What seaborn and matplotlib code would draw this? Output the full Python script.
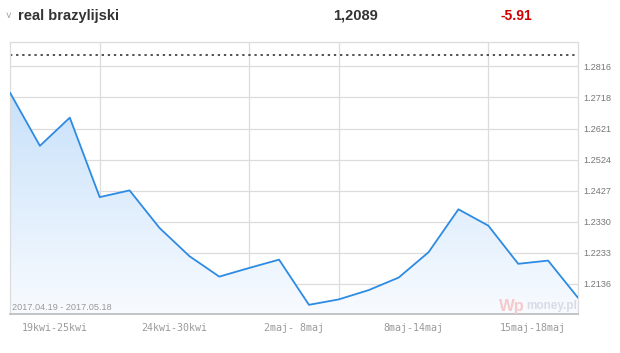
import numpy as np
import pandas as pd
import seaborn as sns
import matplotlib.pyplot as plt
from matplotlib.colors import LinearSegmentedColormap

# kurs reala brazylijskiego, 2017.04.19 - 2017.05.18
values = [1.2733, 1.2567, 1.2655, 1.2407, 1.2428, 1.2311, 1.2223, 1.2159,
          1.2186, 1.2212, 1.2071, 1.2088, 1.2117, 1.2156, 1.2235, 1.2369,
          1.2318, 1.2199, 1.2209, 1.2093]
y_ticks = [1.2136, 1.2233, 1.2330, 1.2427, 1.2524, 1.2621, 1.2718, 1.2816]
week_labels = ["19kwi-25kwi", "24kwi-30kwi", "2maj- 8maj", "8maj-14maj", "15maj-18maj"]
week_edges = [0, 3, 8, 11, 16, 19]
dotted_level = 1.2850

df = pd.DataFrame({"idx": np.arange(len(values)), "kurs": values})

sns.set_theme(style="white")
plt.rcParams["font.family"] = ["Liberation Sans", "DejaVu Sans"]

fig = plt.figure(figsize=(6.2, 3.53), dpi=100)
ax = fig.add_axes([10 / 620, 1 - 314 / 353, 568 / 620, 272 / 353])

ymin, ymax = 1.20424, 1.28909
xmin, xmax = week_edges[0], week_edges[-1]

# gradient fill under line
poly = ax.fill_between(df.idx, df.kurs, ymin, color="none", lw=0)
grad = np.linspace(1, 0, 256).reshape(-1, 1)
cmap = LinearSegmentedColormap.from_list("g", ["#f8fbff", "#c6e0fa"])
img = ax.imshow(grad, cmap=cmap, aspect="auto", extent=[xmin, xmax, ymin, 1.2760],
                origin="upper", zorder=1)
img.set_clip_path(poly.get_paths()[0], transform=ax.transData)

sns.lineplot(data=df, x="idx", y="kurs", ax=ax, color="#2e8be3", lw=1.3, zorder=3)

ax.set_xlim(xmin, xmax)
ax.set_ylim(ymin, ymax)

for yt in y_ticks:
    ax.axhline(yt, color="#dcdcdc", lw=0.9, zorder=0)
for xe in week_edges[1:-1]:
    ax.axvline(xe, color="#dcdcdc", lw=0.9, zorder=0)
ax.axhline(dotted_level, color="#222222", lw=1.1, ls=(0, (1.5, 2.5)), zorder=2)

ax.set_xticks([])
ax.set_yticks([])
ax.set_xlabel("")
ax.set_ylabel("")
for side in ["left", "top", "right"]:
    ax.spines[side].set_color("#dcdcdc")
    ax.spines[side].set_linewidth(0.9)
ax.spines["bottom"].set_color("#b4b4b4")
ax.spines["bottom"].set_linewidth(1.1)

for yt in y_ticks:
    ax.annotate(f"{yt:.4f}", xy=(1, yt), xycoords=("axes fraction", "data"),
                xytext=(5, -1), textcoords="offset pixels", fontsize=6.6,
                color="#777777", va="center", ha="left", annotation_clip=False)

for i, lab in enumerate(week_labels):
    xc = (week_edges[i] + week_edges[i + 1]) / 2
    ax.annotate(lab, xy=(xc, 0), xycoords=("data", "axes fraction"),
                xytext=(0, -14), textcoords="offset pixels", fontsize=7.2,
                color="#9a9a9a", ha="center", va="center",
                family="DejaVu Sans Mono", annotation_clip=False)

ax.annotate("2017.04.19 - 2017.05.18", xy=(0, 0), xycoords="axes fraction",
            xytext=(2, 6), textcoords="offset pixels", fontsize=6.6,
            color="#999999", ha="left", va="center", zorder=4)

ax.annotate("Wp", xy=(1, 0), xycoords="axes fraction", xytext=(-66, 8),
            textcoords="offset pixels", fontsize=12, color="#f6c9cc",
            fontweight="bold", ha="center", va="center", zorder=4)
ax.annotate("money.pl", xy=(1, 0), xycoords="axes fraction", xytext=(-1, 8),
            textcoords="offset pixels", fontsize=8.5, color="#d8dce6",
            fontweight="bold", ha="right", va="center", zorder=4)

# header
fig.text(6 / 620, 1 - 16 / 353, "˅", fontsize=7, color="#999999", ha="left", va="center")
fig.text(18 / 620, 1 - 16 / 353, "real brazylijski", fontsize=10.5, color="#333333",
         fontweight="bold", ha="left", va="center")
fig.text(355 / 620, 1 - 16 / 353, "1,2089", fontsize=10.5, color="#333333",
         fontweight="bold", ha="center", va="center")
fig.text(516 / 620, 1 - 16 / 353, "-5.91", fontsize=10, color="#cc0000",
         fontweight="bold", ha="center", va="center")

fig.savefig("out.png", dpi=100)
